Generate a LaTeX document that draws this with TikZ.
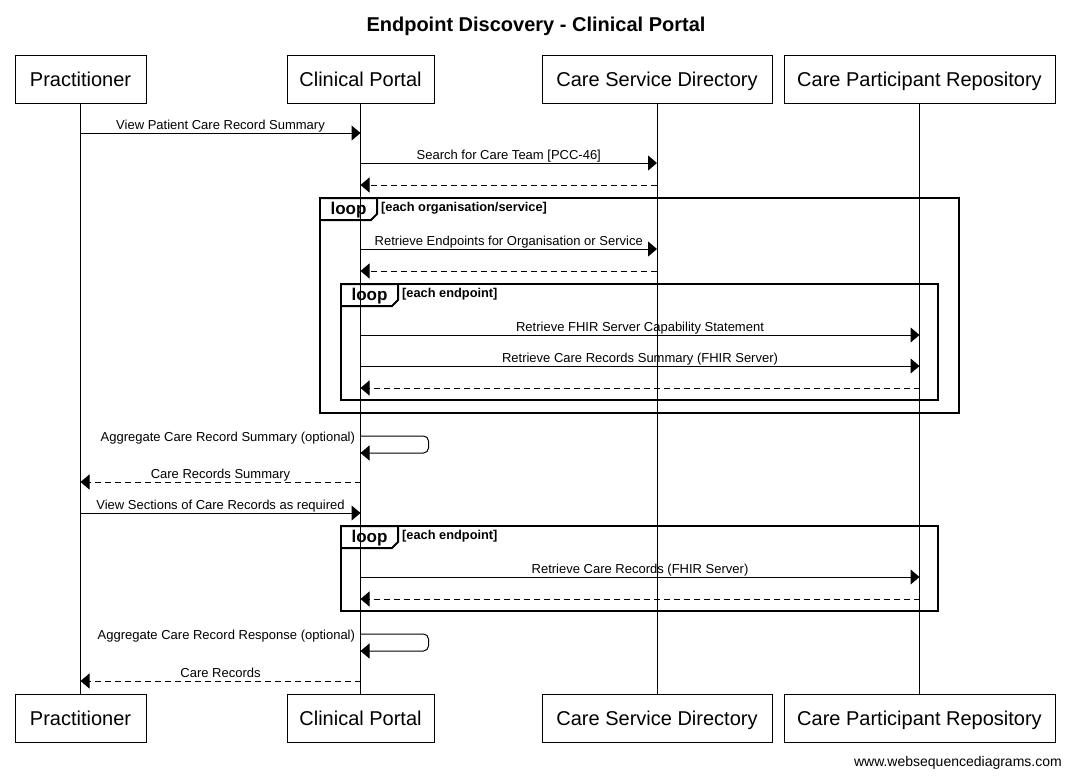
\documentclass[tikz,border=0pt]{standalone}
\usepackage{fontspec}
\setmainfont{Liberation Sans}
\usetikzlibrary{arrows.meta}

\tikzset{
    actor/.style={draw, line width=1pt, minimum height=48pt, inner sep=0pt,
        text height=14.3pt, text depth=0pt, font=\fontsize{20}{24}\selectfont},
    lifeline/.style={line width=1pt},
    msg/.style={line width=1pt, -{Triangle[length=9pt,width=15pt]}},
    reply/.style={msg, dash pattern=on 6pt off 4pt},
    lbl/.style={anchor=base, yshift=3.5pt, inner sep=0pt, font=\fontsize{13}{15}\selectfont},
    selflbl/.style={anchor=base east, xshift=-5pt, yshift=-5.5pt, inner sep=0pt,
        font=\fontsize{13}{15}\selectfont},
    frame/.style={line width=2pt},
    looptag/.style={anchor=base, inner sep=0pt, font=\bfseries\fontsize{17}{20}\selectfont},
    cond/.style={anchor=base west, inner sep=0pt, font=\bfseries\fontsize{12.8}{14}\selectfont},
}

\begin{document}
\begin{tikzpicture}[x=1pt,y=-1pt]
    \useasboundingbox (0,0) rectangle (1070,777);
    \node[anchor=base, inner sep=0pt, font=\bfseries\fontsize{20}{24}\selectfont] (title) at (536,31)
        {Endpoint Discovery - Clinical Portal};

    \node[actor, minimum width=131pt] (pracT) at (80.5,79) {Practitioner};
    \node[actor, minimum width=147pt] (portT) at (360.5,79) {Clinical Portal};
    \node[actor, minimum width=230pt] (csdT) at (657,79) {Care Service Directory};
    \node[actor, minimum width=271pt] (cprT) at (919.5,79) {Care Participant Repository};
    \node[actor, minimum width=131pt] (pracB) at (80.5,718.5) {Practitioner};
    \node[actor, minimum width=147pt] (portB) at (360.5,718.5) {Clinical Portal};
    \node[actor, minimum width=230pt] (csdB) at (657,718.5) {Care Service Directory};
    \node[actor, minimum width=271pt] (cprB) at (919.5,718.5) {Care Participant Repository};

    \draw[lifeline] (pracT.south) -- (pracB.north);
    \draw[lifeline] (portT.south) -- (portB.north);
    \draw[lifeline] (csdT.south) -- (csdB.north);
    \draw[lifeline] (cprT.south) -- (cprB.north);

    \draw[frame] (320,198) rectangle (959,413);
    \draw[frame] (320,198) -- (377,198) -- (377,214) -- (371,220) -- (320,220);
    \node[looptag] (loopA) at (348.5,214.5) {loop};
    \node[cond] (condA) at (381,211) {[each organisation/service]};

    \draw[frame] (341,284) rectangle (938,400);
    \draw[frame] (341,284) -- (398,284) -- (398,300) -- (392,306) -- (341,306);
    \node[looptag] (loopB) at (369.5,300.5) {loop};
    \node[cond] (condB) at (402,297.5) {[each endpoint]};

    \draw[frame] (341,526) rectangle (938,611);
    \draw[frame] (341,526) -- (398,526) -- (398,542) -- (392,548) -- (341,548);
    \node[looptag] (loopC) at (369.5,542.5) {loop};
    \node[cond] (condC) at (402,539.5) {[each endpoint]};

    \draw[msg] (pracT.south |- 0,133) -- node[lbl] (m1) {View Patient Care Record Summary} (portT.south |- 0,133);
    \draw[msg] (portT.south |- 0,163) -- node[lbl] (m2) {Search for Care Team [PCC-46]} (csdT.south |- 0,163);
    \draw[reply] (csdT.south |- 0,185) -- (portT.south |- 0,185);
    \draw[msg] (portT.south |- 0,249) -- node[lbl] (m3) {Retrieve Endpoints for Organisation or Service} (csdT.south |- 0,249);
    \draw[reply] (csdT.south |- 0,271) -- (portT.south |- 0,271);
    \draw[msg] (portT.south |- 0,335) -- node[lbl] (m4) {Retrieve FHIR Server Capability Statement} (cprT.south |- 0,335);
    \draw[msg] (portT.south |- 0,366) -- node[lbl] (m5) {Retrieve Care Records Summary (FHIR Server)} (cprT.south |- 0,366);
    \draw[reply] (cprT.south |- 0,388) -- (portT.south |- 0,388);
    \draw[msg, rounded corners=5pt] (portT.south |- 0,436) node[selflbl] (m6) {Aggregate Care Record Summary (optional)}
        -- ++(68,0) -- ++(0,17) -- ++(-68,0);
    \draw[reply] (portT.south |- 0,482) -- node[lbl] (m7) {Care Records Summary} (pracT.south |- 0,482);
    \draw[msg] (pracT.south |- 0,513) -- node[lbl] (m8) {View Sections of Care Records as required} (portT.south |- 0,513);
    \draw[msg] (portT.south |- 0,577) -- node[lbl] (m9) {Retrieve Care Records (FHIR Server)} (cprT.south |- 0,577);
    \draw[reply] (cprT.south |- 0,599) -- (portT.south |- 0,599);
    \draw[msg, rounded corners=5pt] (portT.south |- 0,634) node[selflbl] (m10) {Aggregate Care Record Response (optional)}
        -- ++(68,0) -- ++(0,17) -- ++(-68,0);
    \draw[reply] (portT.south |- 0,681) -- node[lbl] (m11) {Care Records} (pracT.south |- 0,681);

    \node[anchor=base east, inner sep=0pt, font=\fontsize{14}{16}\selectfont] (credit) at (1062,766.5)
        {www.websequencediagrams.com};
\end{tikzpicture}
\end{document}
